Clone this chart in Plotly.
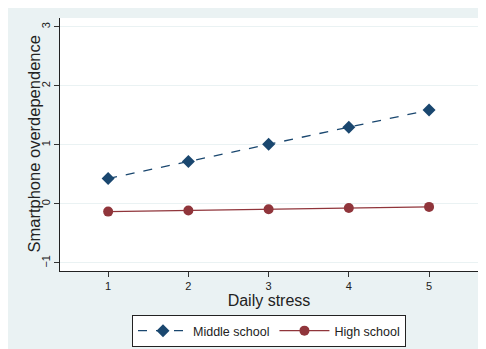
import plotly.graph_objects as go

stress = [1, 2, 3, 4, 5]
middle_school = [0.43, 0.72, 1.01, 1.30, 1.59]
high_school = [-0.13, -0.11, -0.09, -0.07, -0.05]
y_ticks = [-1, 0, 1, 2, 3]

NAVY = "#1A476F"
MAROON = "#90353B"
BG = "#EAF2F3"
FONT = "Liberation Sans, Arial, sans-serif"

fig = go.Figure()
fig.add_trace(go.Scatter(
    x=stress, y=middle_school, name="Middle school", mode="lines+markers",
    line=dict(color=NAVY, width=1.3, dash="dash"),
    marker=dict(symbol="diamond", size=10, color=NAVY),
))
fig.add_trace(go.Scatter(
    x=stress, y=high_school, name="High school", mode="lines+markers",
    line=dict(color=MAROON, width=1.3),
    marker=dict(symbol="circle", size=10, color=MAROON),
))

W, H = 478, 341
L, R, T, B = 52, 8, 10, 78
pw, ph = W - L - R, H - T - B

fig.update_layout(
    width=W, height=H,
    margin=dict(l=L, r=R, t=T, b=B, pad=0, autoexpand=False),
    paper_bgcolor=BG, plot_bgcolor="white",
    font=dict(family=FONT, color="#222222", size=12),
    showlegend=True,
    legend=dict(
        orientation="h", x=0.5, xanchor="center", y=(0 - 44) / ph, yanchor="top",
        bgcolor="white", bordercolor="#222222", borderwidth=1,
        font=dict(size=12.5, family=FONT), itemwidth=50,
    ),
    xaxis=dict(
        range=[0.40, 5.61], tickvals=stress, ticks="outside", ticklen=5,
        tickcolor="#333333", showline=True, linecolor="#222222", linewidth=1,
        showgrid=False, zeroline=False, tickfont=dict(size=11), automargin=False,
        title=dict(text="Daily stress", font=dict(size=16), standoff=2),
    ),
    yaxis=dict(
        range=[-1.136, 3.15], tickvals=y_ticks, ticks="outside", ticklen=5,
        tickcolor="#333333", showline=True, linecolor="#222222", linewidth=1,
        showgrid=True, gridcolor=BG, gridwidth=1, zeroline=False, automargin=False,
        tickangle=-90, tickfont=dict(size=11),
    ),
    annotations=[
        dict(text="Smartphone overdependence", textangle=-90, showarrow=False,
             xref="paper", yref="paper", x=(25 - L) / pw, y=0.5,
             xanchor="center", yanchor="middle",
             font=dict(size=16.5, family=FONT, color="#222222")),
    ],
)

fig.write_html("out.html")
